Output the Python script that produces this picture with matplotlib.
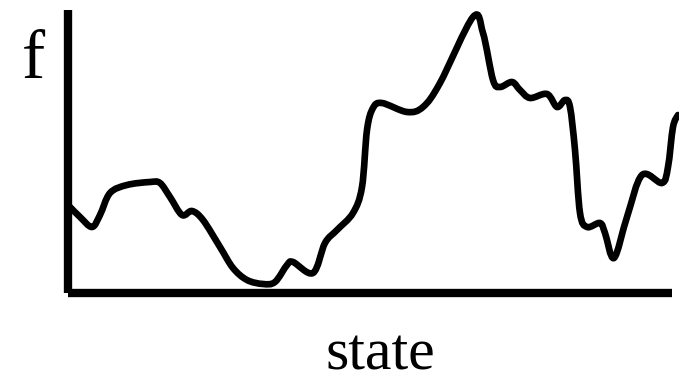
import numpy as np
import matplotlib
matplotlib.use("Agg")
import matplotlib.pyplot as plt
from matplotlib.path import Path
from matplotlib.patches import PathPatch

# curve points (state, f)
state = [2, 12, 24, 32, 42, 59, 82, 92, 102, 114, 124, 135, 152, 165, 179, 195, 207, 219,
         225, 245, 257, 269, 285, 294, 299, 305, 314, 339, 355, 372, 405, 415, 425, 432,
         444, 452, 462, 479, 489, 497, 502, 507, 512, 519, 532, 537, 546, 559, 574, 594,
         600, 605, 610]
f = [86, 76, 66, 78, 100, 108, 111, 110, 96, 78, 82, 73, 46, 25, 13, 9, 11, 28,
     31, 20, 50, 63, 80, 106, 163, 185, 190, 181, 186, 210, 276, 260, 213, 206,
     211, 203, 195, 199, 186, 193, 186, 143, 80, 66, 70, 60, 35, 76, 118, 110,
     126, 166, 178]

fig = plt.figure(figsize=(6.79, 3.83), dpi=100)
ax = fig.add_axes([68/679, (383-293)/383, (672-68)/679, (293-10)/383])
ax.set_xlim(0, 604)
ax.set_ylim(0, 283)
for s in ["top", "right"]:
    ax.spines[s].set_visible(False)
for s in ["left", "bottom"]:
    ax.spines[s].set_linewidth(6)
    ax.spines[s].set_capstyle("butt")
ax.set_xticks([])
ax.set_yticks([])

# smooth Catmull-Rom -> cubic Bezier path through the points
P = np.column_stack([state, f]).astype(float)
verts = [P[0]]
codes = [Path.MOVETO]
n = len(P)
for i in range(n - 1):
    p0 = P[i - 1] if i > 0 else P[i]
    p1 = P[i]
    p2 = P[i + 1]
    p3 = P[i + 2] if i + 2 < n else P[i + 1]
    c1 = p1 + (p2 - p0) / 6.0
    c2 = p2 - (p3 - p1) / 6.0
    verts += [c1, c2, p2]
    codes += [Path.CURVE4] * 3
patch = PathPatch(Path(verts, codes), facecolor="none", edgecolor="black",
                  linewidth=4.8, capstyle="round", joinstyle="round", clip_on=False)
ax.add_patch(patch)

serif = ["Liberation Serif", "DejaVu Serif"]
fig.text(33/679, (383-78)/383, "f", family=serif, fontsize=50, ha="center", va="baseline")
fig.text(380/679, 1/383, "state", family=serif, fontsize=43, ha="center", va="bottom")

fig.savefig("out.png", dpi=100)
